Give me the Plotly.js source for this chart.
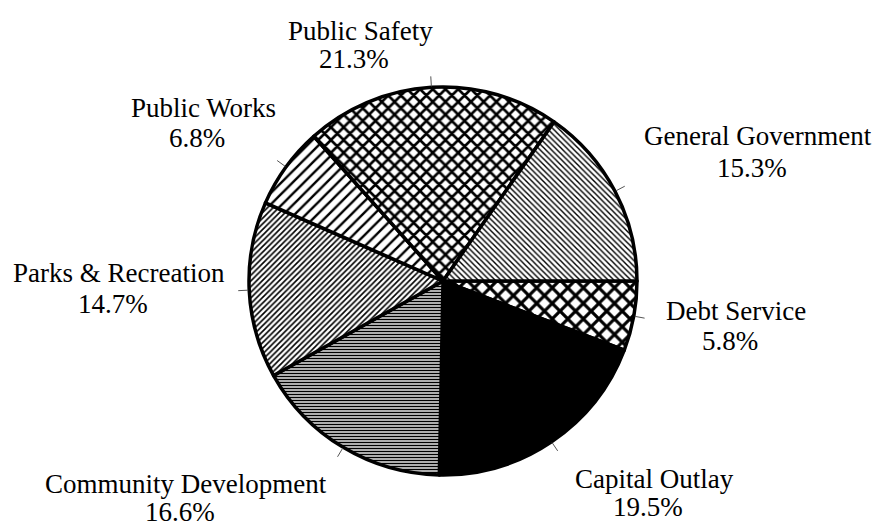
<!DOCTYPE html>
<html>
<head>
<meta charset="utf-8">
<script src="https://cdn.plot.ly/plotly-3.0.1.min.js"></script>
<style>html,body{margin:0;padding:0;background:#fff;}#chart{width:881px;height:529px;}</style>
</head>
<body>
<div id="chart"></div>
<script>
// ---- data ----
const categories = ['Debt Service', 'Capital Outlay', 'Community Development', 'Parks & Recreation', 'Public Works', 'Public Safety', 'General Government'];
const shares = [5.8, 19.5, 16.6, 14.7, 6.8, 21.3, 15.3];
const pctLabels = ['5.8%', '19.5%', '16.6%', '14.7%', '6.8%', '21.3%', '15.3%'];

// ---- layout / style ----
const W = 881, H = 529;
const CX = 443, CY = 281, R = 194;
const FONT = 'Liberation Serif, Times New Roman, serif';
const FS = 27;
const patShapes = ['x', '', '-', '/', '/', 'x', '\\'];
const patSizes = [11, 8, 3, 4, 8, 9, 4];
const patSolid = [0.5, 0.5, 0.55, 0.4, 0.3, 0.5, 0.35];
const sliceColors = ['white', 'black', 'white', 'white', 'white', 'white', 'white'];
// label placement in pixels: [center x, baseline line1, baseline line2]
const labelPos = [
  [736, 320, 350],
  [654, 488, 516],
  [186, 493, 521],
  [119, 282, 313],
  [203, 117, 147],
  [360, 40, 68],
  [758, 145, 177]
];

const px = x => x / W;
const py = y => 1 - y / H;

const trace = {
  type: 'pie',
  labels: categories,
  values: shares,
  sort: false,
  direction: 'clockwise',
  rotation: 90,
  textinfo: 'none',
  hoverinfo: 'label+percent',
  showlegend: false,
  domain: {x: [px(CX - R), px(CX + R)], y: [py(CY + R), py(CY - R)]},
  marker: {
    colors: sliceColors,
    line: {color: 'black', width: 3.5},
    pattern: {shape: patShapes, size: patSizes, solidity: patSolid, fgcolor: 'black', fillmode: 'replace'}
  }
};

// leader ticks at slice mid-angles (clockwise from 3 o'clock)
const total = shares.reduce((a, b) => a + b, 0);
let cum = 0;
const shapes = [];
shares.forEach(v => {
  const mid = (cum + v / 2) / total * 2 * Math.PI;
  cum += v;
  const c = Math.cos(mid), s = Math.sin(mid);
  shapes.push({
    type: 'line', xref: 'paper', yref: 'paper',
    x0: px(CX + c * (R + 1)), y0: py(CY + s * (R + 1)),
    x1: px(CX + c * (R + 11)), y1: py(CY + s * (R + 11)),
    line: {color: '#555', width: 1}
  });
});

const annotations = [];
categories.forEach((name, i) => {
  const p = labelPos[i];
  annotations.push({xref: 'paper', yref: 'paper', x: px(p[0]), y: py(p[1] - 9), xanchor: 'center', yanchor: 'middle',
    text: name, showarrow: false, font: {family: FONT, size: FS, color: 'black'}});
  annotations.push({xref: 'paper', yref: 'paper', x: px(p[0] - 6), y: py(p[2] - 9), xanchor: 'center', yanchor: 'middle',
    text: pctLabels[i], showarrow: false, font: {family: FONT, size: FS, color: 'black'}});
});

const layout = {
  width: W, height: H,
  margin: {l: 0, r: 0, t: 0, b: 0},
  paper_bgcolor: 'white', plot_bgcolor: 'white',
  shapes: shapes,
  annotations: annotations,
  font: {family: FONT}
};

Plotly.newPlot('chart', [trace], layout, {displayModeBar: false, staticPlot: true});
</script>
</body>
</html>
